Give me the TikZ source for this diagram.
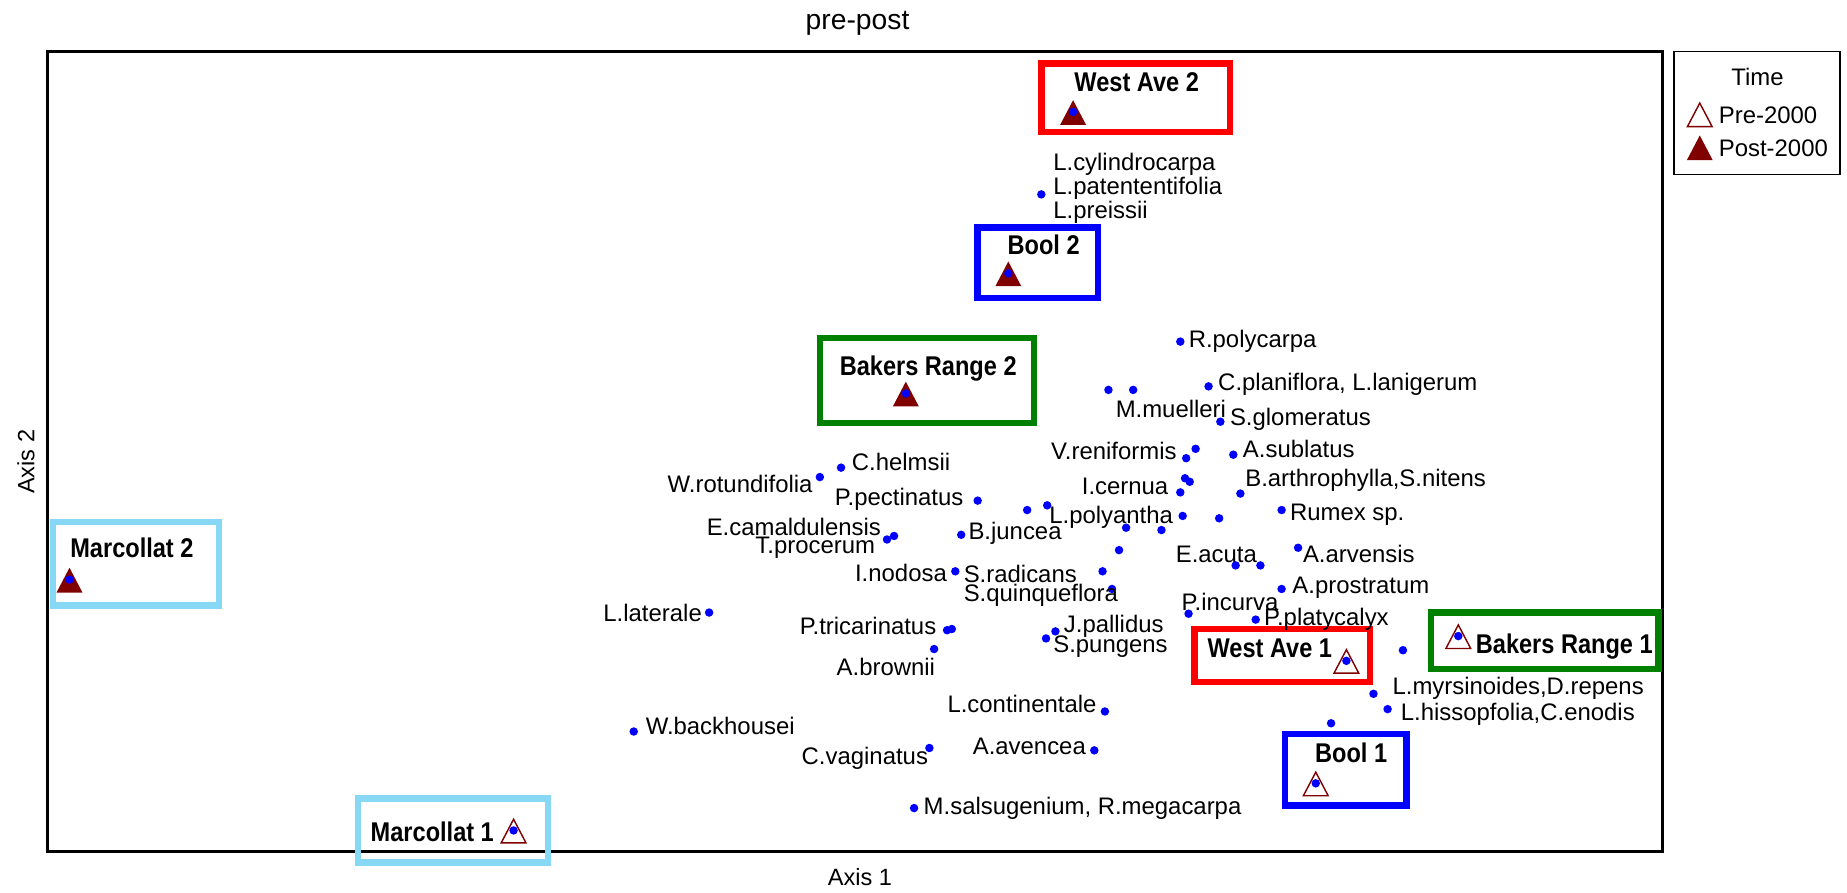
\documentclass[tikz,border=0pt]{standalone}
\usepackage{fontspec}
\setmainfont{Liberation Sans}
\definecolor{ptblue}{RGB}{0,0,255}
\definecolor{sitered}{RGB}{255,0,0}
\definecolor{siteblue}{RGB}{0,0,255}
\definecolor{sitegreen}{RGB}{0,128,0}
\definecolor{sitecyan}{RGB}{135,216,245}
\definecolor{maroonc}{RGB}{128,0,0}
\newcommand{\sitetext}[1]{\scalebox{0.87}[1]{#1}}
\begin{document}
\begin{tikzpicture}[x=1pt,y=-1pt,
  dot/.style={circle,fill=ptblue,inner sep=0pt,minimum size=7.2pt},
  lab/.style={inner sep=0pt,font=\fontsize{20.3}{20.5}\selectfont,align=left},
  sitelab/.style={inner sep=0pt,font=\fontsize{23}{23}\selectfont\bfseries},
  sitebox/.style={line width=5.5pt},
  trifill/.pic={\fill[maroonc] (-11,10) -- (11,10) -- (0,-11) -- cycle;},
  triopen/.pic={\filldraw[fill=white,draw=maroonc,line width=1.2pt] (-10.5,9.5) -- (10.5,9.5) -- (0,-10.5) -- cycle;}
]
\useasboundingbox (0,0) rectangle (1568,758);
\fill[white] (0,0) rectangle (1568,758);

% plot frame
\draw[line width=2.5pt] (40.5,44) rectangle (1411,723);

% title and axes
\node[inner sep=0pt,font=\fontsize{24}{24}\selectfont] (title) at (728,20) {pre-post};
\node[inner sep=0pt,font=\fontsize{20}{20}\selectfont] (ax1) at (730,745) {Axis 1};
\node[inner sep=0pt,font=\fontsize{20}{20}\selectfont,rotate=90] (ax2) at (22,392) {Axis 2};

% site boxes
\draw[sitebox,sitered] (884,54) rectangle (1044,112);
\draw[sitebox,siteblue] (830,193) rectangle (932,253);
\draw[sitebox,sitegreen] (696,287) rectangle (878,359);
\draw[sitebox,sitecyan] (45,443) rectangle (186,514);
\draw[sitebox,sitecyan] (304,678) rectangle (465,732);
\draw[sitebox,sitered] (1014,534) rectangle (1163,579);
\draw[sitebox,sitegreen] (1215,520) rectangle (1408,568);
\draw[sitebox,siteblue] (1091,623) rectangle (1194,684);

% site labels
\node[sitelab] (wa2) at (965,70) {\sitetext{West Ave 2}};
\node[sitelab] (bo2) at (886,208) {\sitetext{Bool 2}};
\node[sitelab] (br2) at (788,313) {\sitetext{Bakers Range 2}};
\node[sitelab] (mc2) at (112,465) {\sitetext{Marcollat 2}};
\node[sitelab] (mc1) at (367,706) {\sitetext{Marcollat 1}};
\node[sitelab] (wa1) at (1078,550) {\sitetext{West Ave 1}};
\node[sitelab] (br1) at (1328,549) {\sitetext{Bakers Range 1}};
\node[sitelab] (bo1) at (1147,639) {\sitetext{Bool 1}};

% site markers
\pic at (911,96) {trifill};
\pic at (856,233) {trifill};
\pic at (769,335) {trifill};
\pic at (59,493) {trifill};
\pic at (436,706) {triopen};
\pic at (1143,562) {triopen};
\pic at (1238,541) {triopen};
\pic at (1117,666) {triopen};
\node[dot] (s1) at (911,95) {};
\node[dot] (s2) at (856,232) {};
\node[dot] (s3) at (769,334) {};
\node[dot] (s4) at (59,492) {};
\node[dot] (s5) at (436,705) {};
\node[dot] (s6) at (1143,561) {};
\node[dot] (s7) at (1238,540) {};
\node[dot] (s8) at (1117,665) {};

% species points
\node[dot] (p1) at (884,165) {};
\node[lab,anchor=west] (l1) at (894,160) {L.cylindrocarpa\\L.patententifolia\\L.preissii};
\node[dot] (p2) at (1002,290) {};
\node[lab,anchor=west] (l2) at (1009,290) {R.polycarpa};
\node[dot] (p3a) at (941,331) {};
\node[dot] (p3b) at (962,331) {};
\node[lab,anchor=west] (l3) at (947,347) {M.muelleri};
\node[dot] (p4) at (1026,328) {};
\node[lab,anchor=west] (l4) at (1034,326) {C.planiflora, L.lanigerum};
\node[dot] (p5) at (1036,358) {};
\node[lab,anchor=west] (l5) at (1044,356) {S.glomeratus};
\node[dot] (p6a) at (1015,381) {};
\node[dot] (p6b) at (1007,389) {};
\node[lab,anchor=east] (l6) at (999,383) {V.reniformis};
\node[dot] (p7) at (1047,386) {};
\node[lab,anchor=west] (l7) at (1055,381) {A.sublatus};
\node[dot] (p8a) at (1006,406) {};
\node[dot] (p8b) at (1010,409) {};
\node[dot] (p8c) at (1002,418) {};
\node[lab,anchor=east] (l8) at (992,413) {I.cernua};
\node[dot] (p9) at (1053,419) {};
\node[lab,anchor=west] (l9) at (1057,408) {B.arthrophylla,S.nitens};
\node[dot] (p10) at (1088,433) {};
\node[lab,anchor=west] (l10) at (1095,437) {Rumex sp.};
\node[dot] (p11a) at (1004,438) {};
\node[dot] (p11b) at (1035,440) {};
\node[lab,anchor=east] (l11) at (996,439) {L.polyantha};
\node[dot] (p12a) at (956,448) {};
\node[dot] (p12b) at (986,450) {};
\node[dot] (p12c) at (950,467) {};
\node[dot] (p12d) at (936,485) {};
\node[dot] (p12e) at (944,500) {};
\node[lab,anchor=west] (l13) at (998,471) {E.acuta};
\node[dot] (p13a) at (1049,480) {};
\node[dot] (p13b) at (1070,480) {};
\node[dot] (p14) at (1102,465) {};
\node[lab,anchor=west] (l14) at (1106,470) {A.arvensis};
\node[dot] (p15) at (1088,500) {};
\node[lab,anchor=west] (l15) at (1097,499) {A.prostratum};
\node[dot] (p16) at (1009,521) {};
\node[lab,anchor=west] (l16) at (1003,511) {P.incurva};
\node[dot] (p17) at (1066,526) {};
\node[lab,anchor=west] (l17) at (1073,526) {P.platycalyx};
\node[dot] (p18) at (1191,552) {};
\node[dot] (p19) at (1166,589) {};
\node[lab,anchor=west] (l19) at (1182,584) {L.myrsinoides,D.repens};
\node[dot] (p20) at (1178,602) {};
\node[lab,anchor=west] (l20) at (1189,606) {L.hissopfolia,C.enodis};
\node[dot] (p21) at (1130,614) {};
\node[dot] (p22) at (830,425) {};
\node[lab,anchor=east] (l22) at (818,424) {P.pectinatus};
\node[dot] (p23a) at (872,433) {};
\node[dot] (p23b) at (889,429) {};
\node[dot] (p24) at (816,454) {};
\node[lab,anchor=west] (l24) at (822,453) {B.juncea};
\node[dot] (p25) at (811,485) {};
\node[lab,anchor=west] (l25a) at (818,487) {S.radicans};
\node[lab,anchor=west] (l25b) at (818,505) {S.quinqueflora};
\node[lab,anchor=east] (l25c) at (804,486) {I.nodosa};
\node[dot] (p26) at (714,397) {};
\node[lab,anchor=west] (l26) at (723,392) {C.helmsii};
\node[dot] (p27) at (696,405) {};
\node[lab,anchor=east] (l27) at (690,411) {W.rotundifolia};
\node[dot] (p28a) at (753,458) {};
\node[dot] (p28b) at (759,455) {};
\node[lab,anchor=east] (l28a) at (748,447) {E.camaldulensis};
\node[lab,anchor=east] (l28b) at (743,465) {T.procerum};
\node[dot] (p29) at (602,520) {};
\node[lab,anchor=east] (l29) at (596,520) {L.laterale};
\node[dot] (p30a) at (804,535) {};
\node[dot] (p30b) at (808,534) {};
\node[lab,anchor=east] (l30) at (795,531) {P.tricarinatus};
\node[dot] (p31) at (793,551) {};
\node[lab,anchor=east] (l31) at (794,566) {A.brownii};
\node[dot] (p32a) at (888,542) {};
\node[dot] (p32b) at (896,536) {};
\node[lab,anchor=west] (l32a) at (903,532) {J.pallidus};
\node[lab,anchor=west] (l32b) at (894,549) {S.pungens};
\node[dot] (p33) at (538,621) {};
\node[lab,anchor=west] (l33) at (548,616) {W.backhousei};
\node[dot] (p34) at (789,635) {};
\node[lab,anchor=east] (l34) at (788,644) {C.vaginatus};
\node[dot] (p35) at (938,604) {};
\node[lab,anchor=east] (l35) at (931,598) {L.continentale};
\node[dot] (p36) at (929,637) {};
\node[lab,anchor=east] (l36) at (922,634) {A.avencea};
\node[dot] (p37) at (776,686) {};
\node[lab,anchor=west] (l37) at (784,686) {M.salsugenium, R.megacarpa};

% legend
\draw[line width=1.1pt] (1421,44) rectangle (1562,148);
\node[lab] (lt) at (1492,65) {Time};
\pic at (1443,98) {triopen};
\pic at (1443,126) {trifill};
\node[lab,anchor=west] (lpre) at (1459,98) {Pre-2000};
\node[lab,anchor=west] (lpost) at (1459,126) {Post-2000};
\end{tikzpicture}
\end{document}
